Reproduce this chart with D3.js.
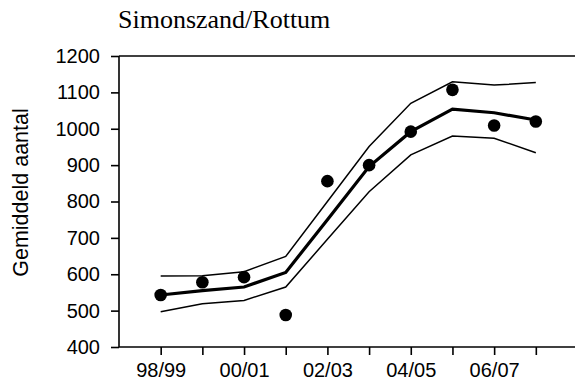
<!DOCTYPE html>
<html>
<head>
<meta charset="utf-8">
<script src="https://cdn.jsdelivr.net/npm/d3@7"></script>
<style>
  html, body { margin: 0; padding: 0; background: #fff; }
  svg { display: block; }
</style>
</head>
<body>
<svg id="chart" width="575" height="382"></svg>
<script>
// Seasons on the x axis
const seasons = ["98/99", "99/00", "00/01", "01/02", "02/03", "03/04", "04/05", "05/06", "06/07", "07/08"];
// Only every other season gets a printed label
const seasonLabels = ["98/99", "00/01", "02/03", "04/05", "06/07"];
// Observed mean counts per season
const observed = [543, 578, 592, 488, 856, 900, 992, 1107, 1009, 1020];
// Fitted trend and its upper / lower confidence bounds
const trend = [543, 555, 565, 605, 750, 896, 992, 1054, 1044, 1024];
const upper = [595, 596, 607, 649, 800, 951, 1070, 1129, 1120, 1127];
const lower = [497, 519, 528, 565, 696, 827, 928, 980, 974, 934];
const yTicks = [400, 500, 600, 700, 800, 900, 1000, 1100, 1200];

const title = "Simonszand/Rottum";
const yTitle = "Gemiddeld aantal";

const svg = d3.select("#chart");
const plotLeft = 119, plotTop = 56, plotBottom = 347, plotRight = 577.5;

const x = d3.scalePoint().domain(seasons).range([plotLeft, plotRight]).padding(1);
const y = d3.scaleLinear().domain([400, 1200]).range([plotBottom, plotTop]);

const sans = "'Liberation Sans', Arial, sans-serif";

// Title
svg.append("text")
  .attr("x", 118).attr("y", 28)
  .attr("font-family", "'Liberation Serif', 'Times New Roman', serif")
  .attr("font-size", 26)
  .attr("fill", "#000")
  .text(title);

// Y axis title
svg.append("text")
  .attr("transform", "translate(28,192.5) rotate(-90)")
  .attr("text-anchor", "middle")
  .attr("font-family", sans)
  .attr("font-size", 21.5)
  .attr("fill", "#000")
  .text(yTitle);

// Y axis
const yAxis = svg.append("g")
  .attr("transform", `translate(${plotLeft},0)`)
  .call(d3.axisLeft(y).tickValues(yTicks).tickFormat(d3.format("d"))
    .tickSize(8).tickSizeOuter(0).tickPadding(11));

// X axis
const xAxis = svg.append("g")
  .attr("transform", `translate(0,${plotBottom})`)
  .call(d3.axisBottom(x).tickSize(8).tickSizeOuter(0).tickPadding(8)
    .tickFormat(d => seasonLabels.includes(d) ? d : ""));

[yAxis, xAxis].forEach(g => {
  g.selectAll("path.domain").attr("stroke", "#000").attr("stroke-width", 1.6);
  g.selectAll(".tick line").attr("stroke", "#000").attr("stroke-width", 1.6);
  g.selectAll(".tick text").attr("font-family", sans).attr("font-size", 20).attr("fill", "#000");
});
yAxis.select("path.domain").attr("d", `M0,${plotBottom}V${plotTop}`);
xAxis.select("path.domain").attr("d", `M${plotLeft},0H${plotRight}`);

// Top frame line
svg.append("line")
  .attr("x1", plotLeft).attr("x2", plotRight)
  .attr("y1", y(1200)).attr("y2", y(1200))
  .attr("stroke", "#000").attr("stroke-width", 1.6);

const line = d3.line()
  .x((d, i) => x(seasons[i]))
  .y(d => y(d));

// Confidence bounds
[upper, lower].forEach(series => {
  svg.append("path")
    .datum(series)
    .attr("d", line)
    .attr("fill", "none")
    .attr("stroke", "#000")
    .attr("stroke-width", 1.5);
});

// Trend line
svg.append("path")
  .datum(trend)
  .attr("d", line)
  .attr("fill", "none")
  .attr("stroke", "#000")
  .attr("stroke-width", 3.2);

// Observed points
svg.append("g")
  .selectAll("circle")
  .data(observed)
  .join("circle")
  .attr("cx", (d, i) => x(seasons[i]))
  .attr("cy", d => y(d))
  .attr("r", 6.3)
  .attr("fill", "#000");
</script>
</body>
</html>
